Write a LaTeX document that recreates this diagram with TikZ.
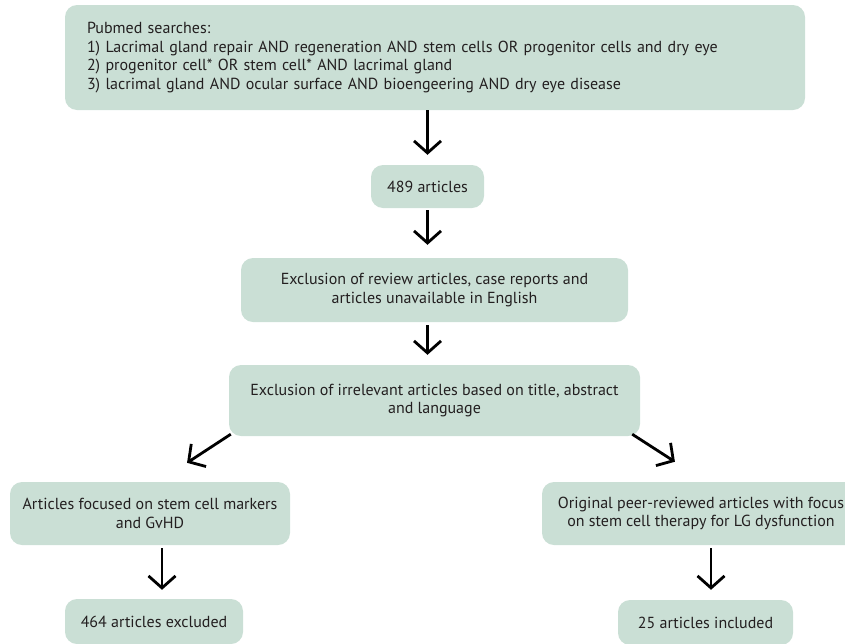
\documentclass[tikz,border=0pt]{standalone}
\usepackage{fontspec}
\setmainfont{PT Sans}
\usetikzlibrary{arrows.meta}

\definecolor{boxgreen}{RGB}{202,223,213}
\definecolor{ink}{RGB}{35,31,32}

\begin{document}
\begin{tikzpicture}[x=1pt, y=-1pt,
                    box/.style={fill=boxgreen, rounded corners=12pt, align=center, text=ink, inner sep=0pt, font=\fontsize{16}{18.5}\selectfont},
                    arr/.style={line width=2.8pt, -{Straight Barb[length=12pt, width=27pt]}}]
                    \useasboundingbox (0,0) rectangle (845,643);

                    \node[box, minimum width=740, minimum height=105, text width=696, align=left] (search) at (435,57.5)
                        {Pubmed searches:\\
                         1) Lacrimal gland repair AND regeneration AND stem cells OR progenitor cells and dry eye\\
                         2) progenitor cell* OR stem cell* AND lacrimal gland\\
                         3) lacrimal gland AND ocular surface AND bioengeering AND dry eye disease};
                    \node[box, minimum width=113, minimum height=43] (n489) at (427.5,186.5) {489 articles};
                    \node[box, minimum width=387, minimum height=64] (review) at (434.5,290)
                        {Exclusion of review articles, case reports and\\articles unavailable in English};
                    \node[box, minimum width=411, minimum height=71] (irrel) at (434.5,400.5)
                        {Exclusion of irrelevant articles based on title, abstract\\and language};
                    \node[box, minimum width=280, minimum height=63] (markers) at (150,513.5)
                        {Articles focused on stem cell markers\\and GvHD};
                    \node[box, minimum width=318, minimum height=63] (original) at (701,513.5)
                        {Original peer-reviewed articles with focus\\on stem cell therapy for LG dysfunction};
                    \node[box, minimum width=178, minimum height=45] (excl) at (154,621.5) {464 articles excluded};
                    \node[box, minimum width=175, minimum height=45] (incl) at (705.5,622.5) {25 articles included};

                    \draw[arr, shorten >=10pt] (search.south -| n489.north) -- (n489.north);
                    \draw[arr, shorten <=2pt, shorten >=13pt] (n489.south) -- (n489.south |- review.north);
                    \draw[arr, shorten <=3pt, shorten >=10pt] (review.south -| n489) -- (irrel.north -| n489);
                    \draw[arr, shorten >=34.7pt] ([shift={(2pt,2pt)}]irrel.south west) -- ([xshift=8pt]markers.north);
                    \draw[arr, shorten >=37pt] ([shift={(-8pt,2pt)}]irrel.south east) -- ([xshift=5pt]original.north);
                    \draw[arr, shorten <=3pt, shorten >=9pt] ([xshift=12pt]markers.south) -- ([xshift=12pt]markers.south |- excl.north);
                    \draw[arr, shorten <=3pt, shorten >=10pt] ([xshift=10pt]original.south) -- ([xshift=10pt]original.south |- incl.north);
                \end{tikzpicture}
\end{document}
